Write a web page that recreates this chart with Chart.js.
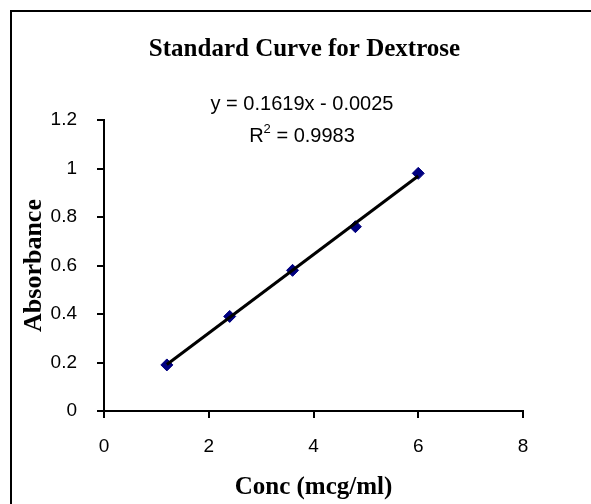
<!DOCTYPE html>
<html>
<head>
<meta charset="utf-8">
<script src="https://cdn.jsdelivr.net/npm/chart.js@4/dist/chart.umd.min.js"></script>
<style>
  html, body { margin: 0; padding: 0; background: #fff; overflow: hidden; }
  canvas { display: block; }
</style>
</head>
<body>
<canvas id="curva" width="609" height="504"></canvas>
<script>
// Datos
const concentraciones = [1.2, 2.4, 3.6, 4.8, 6.0];
const absorbancias = [0.19, 0.39, 0.58, 0.76, 0.98];
const xTickLabels = ["0", "2", "4", "6", "8"];
const yTickLabels = ["0", "0.2", "0.4", "0.6", "0.8", "1", "1.2"];

const titulo = "Standard Curve for Dextrose";

// Linea de tendencia (ecuacion del grafico)
const pendiente = 0.1619;
const intercepto = -0.0025;
const r2 = "0.9983";

const tendencia = [concentraciones[0], concentraciones[concentraciones.length - 1]]
    .map(x => ({ x, y: pendiente * x + intercepto }));

const puntos = concentraciones.map((x, i) => ({ x, y: absorbancias[i] }));

const familiaSerif = "'Liberation Serif', 'Times New Roman', serif";
const familiaSans = "'Liberation Sans', Arial, sans-serif";

// Fondo, marco, titulo (centrado en el marco) y ecuacion
const marco = {
    id: "marco",
    beforeDraw(chart) {
        const ctx = chart.ctx;
        ctx.save();
        ctx.fillStyle = "#fff";
        ctx.fillRect(0, 0, chart.width, chart.height);
        ctx.strokeStyle = "#000";
        ctx.lineWidth = 2;
        ctx.strokeRect(11, 11, chart.width, chart.height);
        ctx.restore();
    },
    afterDraw(chart) {
        const ctx = chart.ctx;
        ctx.save();
        ctx.fillStyle = "#000";
        ctx.textBaseline = "alphabetic";
        ctx.textAlign = "center";
        ctx.font = "bold 25px " + familiaSerif;
        ctx.fillText(titulo, 304.5, 56);

        const cx = 302;
        ctx.font = "20px " + familiaSans;
        const signo = intercepto < 0 ? " - " : " + ";
        ctx.fillText("y = " + pendiente + "x" + signo + Math.abs(intercepto).toFixed(4), cx, 110);

        // R² con superindice
        ctx.textAlign = "left";
        const a = "R";
        const b = " = " + r2;
        const wa = ctx.measureText(a).width;
        const wb = ctx.measureText(b).width;
        ctx.font = "13px " + familiaSans;
        const ws = ctx.measureText("2").width;
        const x0 = cx - (wa + ws + wb) / 2;
        ctx.font = "20px " + familiaSans;
        ctx.fillText(a, x0, 142);
        ctx.fillText(b, x0 + wa + ws, 142);
        ctx.font = "13px " + familiaSans;
        ctx.fillText("2", x0 + wa, 133);
        ctx.restore();
    }
};

const fuenteTitulo = { family: familiaSerif, size: 25, weight: "bold" };
const fuenteTicks = { family: familiaSans, size: 19 };

new Chart(document.getElementById("curva"), {
    type: "scatter",
    data: {
        datasets: [
            {
                label: "Tendencia",
                data: tendencia,
                showLine: true,
                borderColor: "#000",
                borderWidth: 3,
                pointRadius: 0,
                order: 0
            },
            {
                label: "Absorbancia",
                data: puntos,
                pointStyle: "rectRot",
                pointRadius: 6,
                pointBackgroundColor: "#000080",
                pointBorderColor: "#000080",
                pointBorderWidth: 1,
                order: 1
            }
        ]
    },
    options: {
        responsive: false,
        animation: false,
        layout: { padding: { left: 19, right: 86, top: 120, bottom: 0 } },
        plugins: {
            legend: { display: false },
            tooltip: { enabled: false },
            title: { display: false }
        },
        scales: {
            x: {
                type: "linear",
                min: 0,
                max: 8,
                afterFit(scale) { scale.height = 93; },
                border: { display: true, color: "#000", width: 2 },
                grid: { display: true, drawOnChartArea: false, drawTicks: true, tickLength: 7, color: "#000", lineWidth: 2 },
                ticks: {
                    stepSize: 2,
                    color: "#000",
                    font: fuenteTicks,
                    padding: 17,
                    maxRotation: 0,
                    callback: (v, i) => xTickLabels[i]
                },
                title: {
                    display: true,
                    text: "Conc (mcg/ml)",
                    color: "#000",
                    font: fuenteTitulo,
                    padding: { top: 0, bottom: 1 }
                }
            },
            y: {
                type: "linear",
                min: 0,
                max: 1.2,
                afterFit(scale) { scale.width = 85; },
                border: { display: true, color: "#000", width: 2 },
                grid: { display: true, drawOnChartArea: false, drawTicks: true, tickLength: 7, color: "#000", lineWidth: 2 },
                ticks: {
                    stepSize: 0.2,
                    color: "#000",
                    font: fuenteTicks,
                    padding: 20,
                    callback: (v, i) => yTickLabels[i]
                },
                title: {
                    display: true,
                    text: "Absorbance",
                    color: "#000",
                    font: { family: familiaSerif, size: 26, weight: "bold" },
                    padding: 0
                }
            }
        }
    },
    plugins: [marco]
});
</script>
</body>
</html>
